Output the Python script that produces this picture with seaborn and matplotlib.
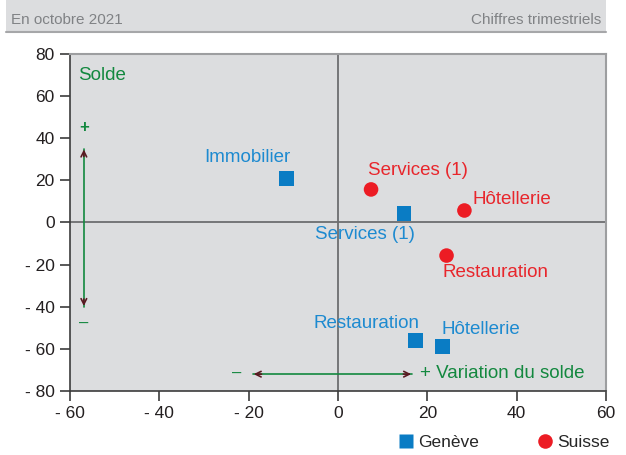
import matplotlib
matplotlib.use("Agg")
import matplotlib.pyplot as plt
import matplotlib.patches as mpatches
from matplotlib.ticker import FuncFormatter
import pandas as pd
import seaborn as sns

# Données
secteurs_ge = ["Immobilier", "Services (1)", "Restauration", "Hôtellerie"]
variation_ge = [-11.5, 14.8, 17.3, 23.4]
solde_ge = [21, 4.3, -56, -59]

secteurs_ch = ["Services (1)", "Hôtellerie", "Restauration"]
variation_ch = [7.4, 28.3, 24.3]
solde_ch = [15.7, 5.7, -15.7]

# positions des étiquettes (x, y)
labels_ge = [(-20.4, 31), (6.1, -5.7), (6.3, -48), (31.9, -51)]
labels_ch = [(18.0, 24.8), (38.9, 11), (35.3, -23.8)]

BLUE = "#0a7cc4"
BLUE_TXT = "#1d8ad0"
RED = "#ec1c24"
RED_TXT = "#e8262c"
GREEN = "#13883f"
GREY_BG = "#dcdddf"
FS = 13.5

df = pd.DataFrame({
    "variation": variation_ge + variation_ch,
    "solde": solde_ge + solde_ch,
    "region": ["Genève"] * len(secteurs_ge) + ["Suisse"] * len(secteurs_ch),
})

sns.set_style("white")
plt.rcParams["font.family"] = ["Liberation Sans", "DejaVu Sans"]

fig = plt.figure(figsize=(6.26, 4.55), dpi=100)
ax = fig.add_axes([70 / 626, 1 - 391 / 455, 536 / 626, 337 / 455])
ax.set_facecolor(GREY_BG)

# bandeau d'en-tête
fig.patches.append(mpatches.Rectangle((6 / 626, 1 - 32 / 455), 600 / 626, 32 / 455,
                                      transform=fig.transFigure, facecolor=GREY_BG,
                                      edgecolor="none", zorder=0))
fig.lines.append(plt.Line2D([6 / 626, 606 / 626], [1 - 32 / 455] * 2,
                            transform=fig.transFigure, color="#a6a7a9", lw=1.5))
fig.text(11 / 626, 1 - 20 / 455, "En octobre 2021", color="#808285", fontsize=11,
         ha="left", va="center")
fig.text(601 / 626, 1 - 20 / 455, "Chiffres trimestriels", color="#808285", fontsize=11,
         ha="right", va="center")

ax.axhline(0, color="#6d6e70", lw=1.3, zorder=1)
ax.axvline(0, color="#6d6e70", lw=1.3, zorder=1)

sns.scatterplot(data=df, x="variation", y="solde", hue="region", style="region",
                palette={"Genève": BLUE, "Suisse": RED},
                markers={"Genève": "s", "Suisse": "o"},
                s=110, edgecolor="none", ax=ax, zorder=3)

for name, (x, y) in zip(secteurs_ge, labels_ge):
    ax.text(x, y, name, color=BLUE_TXT, fontsize=FS, ha="center", va="center")
for name, (x, y) in zip(secteurs_ch, labels_ch):
    ax.text(x, y, name, color=RED_TXT, fontsize=FS, ha="center", va="center")

# Flèches d'explication
ax.text(-58.2, 70, "Solde", color=GREEN, fontsize=FS, ha="left", va="center")
ax.text(-56.9, 45, "+", color=GREEN, fontsize=12, ha="center", va="center",
        fontweight="bold")
ax.text(-56.9, -48, "–", color=GREEN, fontsize=12, ha="center", va="center")
ax.plot([-56.9, -56.9], [-40, 35], color=GREEN, lw=1.2, zorder=2)
ax.annotate("", xy=(-56.9, 36), xytext=(-56.9, 30),
            arrowprops=dict(arrowstyle="->", color="#5a1a22", lw=1.2))
ax.annotate("", xy=(-56.9, -41), xytext=(-56.9, -35),
            arrowprops=dict(arrowstyle="->", color="#5a1a22", lw=1.2))

ax.plot([-19.1, 16.6], [-72, -72], color=GREEN, lw=1.2, zorder=2)
ax.annotate("", xy=(-19.5, -72), xytext=(-16.5, -72),
            arrowprops=dict(arrowstyle="->", color="#5a1a22", lw=1.2))
ax.annotate("", xy=(17.0, -72), xytext=(14.0, -72),
            arrowprops=dict(arrowstyle="->", color="#5a1a22", lw=1.2))
ax.text(-22.7, -71.5, "–", color=GREEN, fontsize=12, ha="center", va="center")
ax.text(18.4, -71.5, "+ Variation du solde", color=GREEN, fontsize=FS, ha="left",
        va="center")

ax.set_xlim(-60, 60)
ax.set_ylim(-80, 80)
ax.set_xticks(range(-60, 61, 20))
ax.set_yticks(range(-80, 81, 20))
fmt = FuncFormatter(lambda v, p: f"- {abs(int(v))}" if v < 0 else f"{int(v)}")
ax.xaxis.set_major_formatter(fmt)
ax.yaxis.set_major_formatter(fmt)
ax.tick_params(axis="both", labelsize=12.5, length=7, width=1.2, color="#3c3c3c",
               labelcolor="#231f20", direction="out", pad=4)
ax.tick_params(left=True, bottom=True)
ax.set_xlabel("")
ax.set_ylabel("")

for side in ["left", "bottom"]:
    ax.spines[side].set_color("#3c3c3c")
    ax.spines[side].set_linewidth(1.2)
for side in ["top", "right"]:
    ax.spines[side].set_color("#9d9ea0")
    ax.spines[side].set_linewidth(1.5)

handles, labs = ax.get_legend_handles_labels()
ax.get_legend().remove()
leg = fig.legend(handles, labs, loc="lower right", bbox_to_anchor=(0.99, -0.012),
                 ncol=2, frameon=False, fontsize=12.5, handletextpad=0.1,
                 columnspacing=3.2, handlelength=1.2, borderaxespad=0.2)

fig.savefig("out.png", dpi=100)
